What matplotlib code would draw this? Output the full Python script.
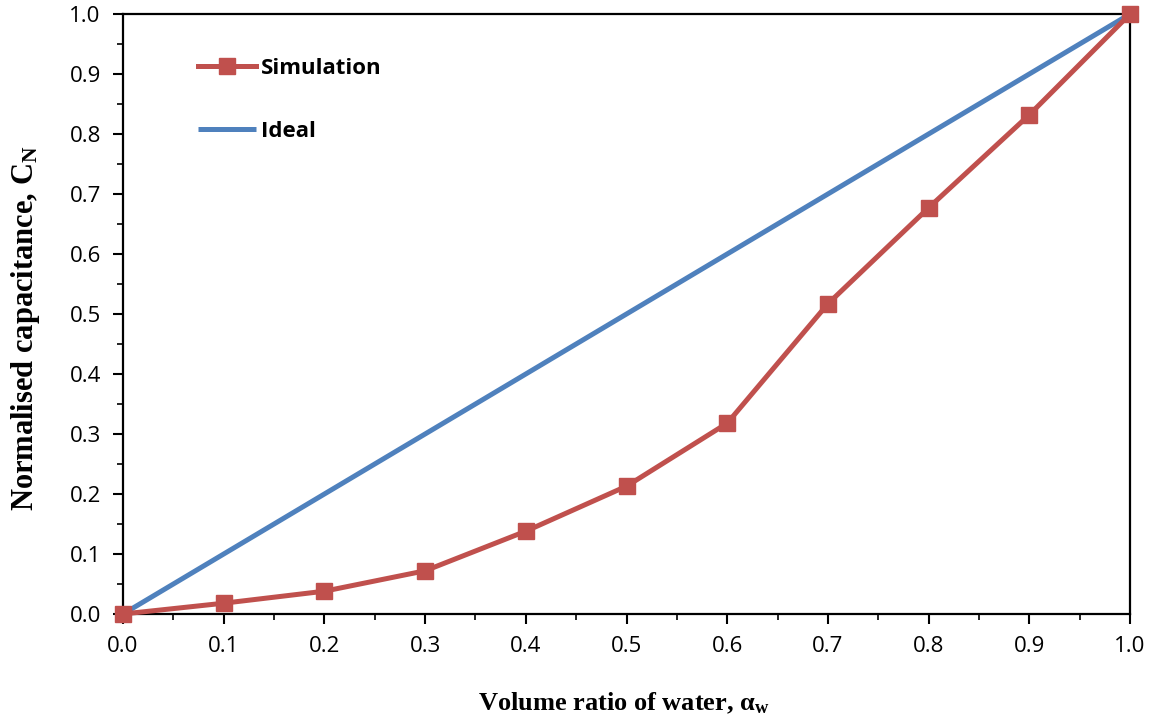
import numpy as np
import matplotlib
matplotlib.use('Agg')
import matplotlib.pyplot as plt
from matplotlib.ticker import MultipleLocator, FormatStrFormatter

# data
alpha_w = [0.0, 0.1, 0.2, 0.3, 0.4, 0.5, 0.6, 0.7, 0.8, 0.9, 1.0]
cn_simulation = [0.0, 0.018, 0.038, 0.072, 0.138, 0.213, 0.318, 0.517, 0.677, 0.832, 1.0]
ideal_x = [0.0, 1.0]
ideal_y = [0.0, 1.0]

red = '#C0504D'
blue = '#4F81BD'

plt.rcParams['mathtext.fontset'] = 'custom'
plt.rcParams['mathtext.rm'] = 'Liberation Serif'
plt.rcParams['mathtext.bf'] = 'Liberation Serif:bold'

fig = plt.figure(figsize=(11.59, 7.25), dpi=100)
ax = fig.add_axes([123 / 1159, 111 / 725, 1007 / 1159, 600 / 725])

ax.plot(alpha_w, cn_simulation, color=red, lw=3.6, marker='s', ms=12,
        label='Simulation', zorder=3, clip_on=False)
ax.plot(ideal_x, ideal_y, color=blue, lw=3.6, label='Ideal', zorder=2,
        solid_capstyle='butt')

ax.set_xlim(0, 1)
ax.set_ylim(0, 1)
ax.xaxis.set_major_locator(MultipleLocator(0.1))
ax.xaxis.set_minor_locator(MultipleLocator(0.05))
ax.yaxis.set_major_locator(MultipleLocator(0.1))
ax.yaxis.set_minor_locator(MultipleLocator(0.05))
ax.xaxis.set_major_formatter(FormatStrFormatter('%.1f'))
ax.yaxis.set_major_formatter(FormatStrFormatter('%.1f'))

ax.tick_params(which='major', direction='out', length=7, width=1.5,
               labelsize=16, pad=9)
ax.tick_params(which='minor', direction='out', length=4, width=1.2)
for lab in ax.get_xticklabels() + ax.get_yticklabels():
    lab.set_fontfamily('Open Sans')
for sp in ax.spines.values():
    sp.set_linewidth(1.6)

ax.set_xlabel(r'Volume ratio of water, $\mathbf{α_w}$', fontsize=19,
              fontweight='bold', family='Liberation Serif')
ax.set_ylabel(r'Normalised capacitance, $\mathbf{C_N}$', fontsize=22,
              fontweight='bold', family='Liberation Serif')
ax.xaxis.set_label_coords(0.4975, -0.128)
ax.yaxis.set_label_coords(-0.080, 0.477)

ax.legend(loc='upper left', bbox_to_anchor=(0.055, 0.96), frameon=False,
          handlelength=2.6, handletextpad=0.2, labelspacing=1.9,
          prop={'family': 'Open Sans', 'weight': 'bold', 'size': 16})

fig.savefig('out.png', dpi=100)
